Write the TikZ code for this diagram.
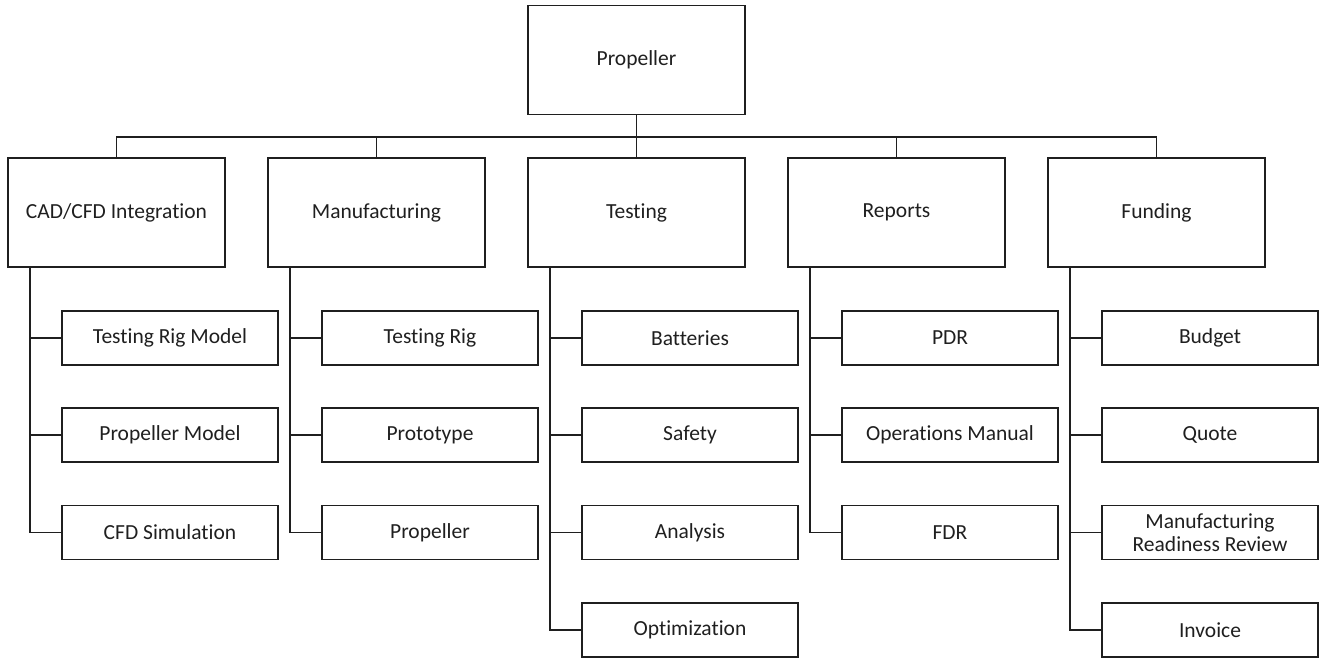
\documentclass[tikz,border=0pt]{standalone}
\usepackage{fontspec}
\setmainfont{Carlito}[Ligatures=NoCommon]
\begin{document}
\begin{tikzpicture}[x=1pt,y=-1pt,
  box/.style={draw=black!88, line width=1.8pt, minimum width=217pt, minimum height=109pt,
    inner sep=0pt, font=\fontsize{21.5}{23.5}\selectfont, align=center, text=black!88},
  sub/.style={box, minimum width=216pt, minimum height=54pt},
  conn/.style={draw=black!88, line width=1.8pt}]
\useasboundingbox (0,0) rectangle (1320,658);
\node[box] (root) at (636.5,60) {Propeller};
\coordinate (bus) at (636.5,137);
% level 1
\node[box] (cad) at (116.5,212.5) {CAD/CFD Integration};
\node[box] (man) at (376.5,212.5) {Manufacturing};
\node[box] (tst) at (636.5,212.5) {Testing};
\node[box] (rep) at (896.5,212.5) {Reports};
\node[box] (fun) at (1156.5,212.5) {Funding};
\foreach \n in {cad,man,tst,rep,fun}
  \draw[conn] (root.south) -- (root.south |- bus) -| (\n.north);
% CAD children
\node[sub] (cad1) at (170,338) {Testing Rig Model};
\node[sub] (cad2) at (170,435) {Propeller Model};
\node[sub] (cad3) at (170,532.5) {CFD Simulation};
% Manufacturing children
\node[sub] (man1) at (430,338) {Testing Rig};
\node[sub] (man2) at (430,435) {Prototype};
\node[sub] (man3) at (430,532.5) {Propeller};
% Testing children
\node[sub] (tst1) at (690,338) {Batteries};
\node[sub] (tst2) at (690,435) {Safety};
\node[sub] (tst3) at (690,532.5) {Analysis};
\node[sub] (tst4) at (690,630) {Optimization};
% Reports children
\node[sub] (rep1) at (950,338) {PDR};
\node[sub] (rep2) at (950,435) {Operations Manual};
\node[sub] (rep3) at (950,532.5) {FDR};
% Funding children
\node[sub] (fun1) at (1210,338) {Budget};
\node[sub] (fun2) at (1210,435) {Quote};
\node[sub] (fun3) at (1210,532.5) {Manufacturing\\Readiness Review};
\node[sub] (fun4) at (1210,630) {Invoice};
% spines
\coordinate (scad) at (30,267);
\coordinate (sman) at (290,267);
\coordinate (stst) at (550,267);
\coordinate (srep) at (810,267);
\coordinate (sfun) at (1070,267);
\foreach \c in {cad1,cad2,cad3} \draw[conn] (scad) |- (\c.west);
\foreach \c in {man1,man2,man3} \draw[conn] (sman) |- (\c.west);
\foreach \c in {tst1,tst2,tst3,tst4} \draw[conn] (stst) |- (\c.west);
\foreach \c in {rep1,rep2,rep3} \draw[conn] (srep) |- (\c.west);
\foreach \c in {fun1,fun2,fun3,fun4} \draw[conn] (sfun) |- (\c.west);
\end{tikzpicture}
\end{document}
